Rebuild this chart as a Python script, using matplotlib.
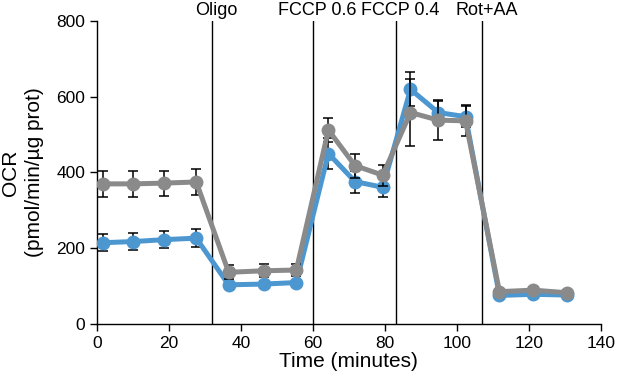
import matplotlib.pyplot as plt
import numpy as np

plt.rcParams["font.family"] = ["Liberation Sans", "DejaVu Sans"]

time_min = [1.8, 10.1, 18.7, 27.6, 36.6, 46.4, 55.4, 64.3, 71.7, 79.4,
            87.1, 94.8, 102.4, 111.8, 121.2, 130.7]
ocr_blue = [215, 218, 223, 227, 104, 106, 110, 450, 376, 361,
            619, 558, 547, 76, 79, 77]
err_blue = [22, 22, 23, 24, 8, 8, 8, 40, 29, 25, 45, 30, 28, 6, 6, 6]
ocr_gray = [370, 370, 372, 375, 137, 141, 143, 512, 418, 393,
            558, 538, 536, 86, 90, 83]
err_gray = [34, 34, 33, 34, 18, 17, 17, 32, 32, 28, 88, 52, 41, 7, 7, 7]

inj_times = [32, 60, 83, 107]
inj_labels = ["Oligo", "FCCP 0.6", "FCCP 0.4", "Rot+AA"]

fig = plt.figure(figsize=(6.17, 3.8), dpi=100)
ax = fig.add_axes([0.157, 0.1466, 0.817, 0.799])

for t, lab in zip(inj_times, inj_labels):
    ax.plot([t, t], [0, 800], color="black", lw=1.0, zorder=1)
    ax.text(t + 1.2, 814, lab, ha="center", va="baseline", fontsize=13,
            clip_on=False)

ax.errorbar(time_min, ocr_blue, yerr=err_blue, fmt="none", ecolor="black",
            elinewidth=1.1, capsize=3.6, capthick=1.1, zorder=2)
ax.plot(time_min, ocr_blue, color="#4d97d0", lw=3.6, marker="o", ms=9,
        zorder=3)
ax.errorbar(time_min, ocr_gray, yerr=err_gray, fmt="none", ecolor="black",
            elinewidth=1.1, capsize=3.6, capthick=1.1, zorder=4)
ax.plot(time_min, ocr_gray, color="#8a8a8a", lw=3.6, marker="o", ms=9,
        zorder=5)

ax.set_xlim(0, 140)
ax.set_ylim(0, 800)
ax.set_xticks(np.arange(0, 141, 20))
ax.set_yticks(np.arange(0, 801, 200))
ax.tick_params(labelsize=12.5, length=5, width=1)
for side in ["top", "right"]:
    ax.spines[side].set_visible(False)
ax.spines["left"].set_linewidth(1)
ax.spines["bottom"].set_linewidth(1)
ax.set_xlabel("Time (minutes)", fontsize=15, labelpad=1)
ax.set_ylabel("OCR\n(pmol/min/\u00b5g prot)", fontsize=15, labelpad=9,
              linespacing=1.3)

fig.savefig("out.png", dpi=100)
